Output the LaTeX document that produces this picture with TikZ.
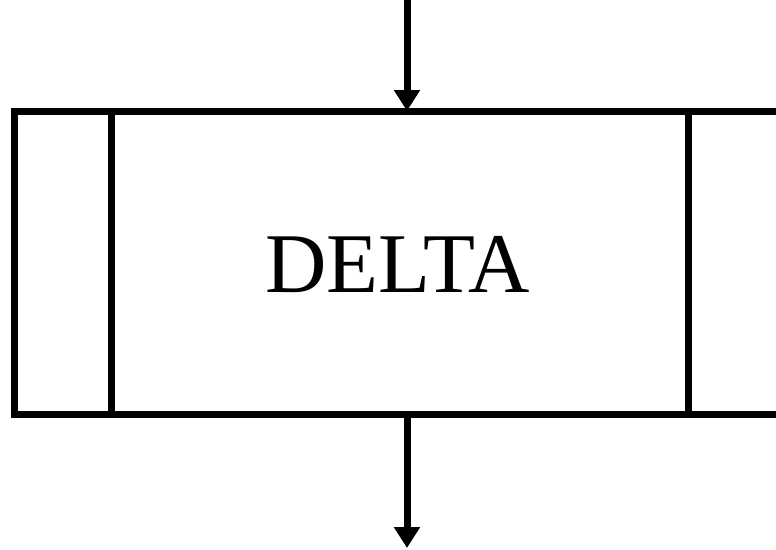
\documentclass[tikz,border=0pt]{standalone}
\usepackage{fontspec}
\setmainfont{Liberation Serif}
\usetikzlibrary{arrows.meta}
\begin{document}
\begin{tikzpicture}[x=1pt,y=1pt,
  thick line/.style={line width=7pt},
  procbox/.style={draw,thick line,rectangle,minimum width=770pt,minimum height=303pt,inner sep=0pt,outer sep=0pt},
  flow/.style={thick line,-{Triangle[length=21pt,width=25pt]}},
  boxtext/.style={inner sep=0pt,font=\fontsize{85}{100}\selectfont}]
  \clip (0,0) rectangle (776,-549);
  % predefined-process box, its right end runs past the frame
  \node[procbox] (box) at (399,-262.5) {};
  \node[boxtext] (label) at (397.5,-265) {DELTA};
  % side bars of the subroutine symbol
  \draw[thick line] ([xshift=97pt]box.north west) -- ([xshift=97pt]box.south west);
  \draw[thick line] ([xshift=-96pt]box.north east) -- ([xshift=-96pt]box.south east);
  % flow in and out
  \coordinate (in) at (407,0);
  \coordinate (out) at (407,-548);
  \draw[flow] (in) -- (in |- box.north);
  \draw[flow] (out |- box.south) -- (out);
\end{tikzpicture}
\end{document}
